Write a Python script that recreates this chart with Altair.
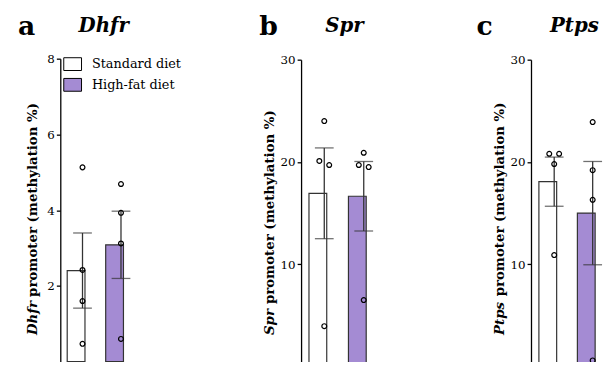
import altair as alt
import pandas as pd

FONT = "DejaVu Serif"
PURPLE = "#a48bd3"

# ---- data ----
letters = ["a", "b", "c"]
genes = ["Dhfr", "Spr", "Ptps"]
diets = ["Standard diet", "High-fat diet"]

dhfr_standard = [5.13, 2.42, 1.60, 0.47]
dhfr_high_fat = [4.69, 3.93, 3.12, 0.60]
spr_standard = [24.0, 20.1, 19.7, 3.95]
spr_high_fat = [20.9, 19.7, 19.5, 6.5]
ptps_standard = [20.8, 20.8, 19.8, 10.9]
ptps_high_fat = [23.9, 19.2, 16.3, 0.6]

y_max = [8, 30, 30]
y_ticks = [[2, 4, 6, 8], [10, 20, 30], [10, 20, 30]]

# ---- layout (pixels, relative to the plot origin) ----
W_TOTAL, H_TOTAL = 606, 354
panel_x = [(53, 138), (297, 377), (530, 610)]   # left / right of each panel
panel_y = [(356, 49), (361, 50), (361, 50)]     # zero line / top of each panel
bar_w = 31
bar_left = [7, 8, 8]
bar_gap = [8, 9, 8]
letter_pos = [(19, 25), (264, 25), (483, 25)]
gene_pos = [(97, 22), (341, 22), (574, 22)]
title_pos = [(25, 329), (266, 329), (499, 329)]
TS = 13.5
# approx. advance widths (em) of DejaVu Serif Bold Italic
BI = {"D": .83, "h": .71, "f": .44, "r": .53, "S": .72, "p": .72,
      "P": .75, "t": .48, "s": .60}


def spread(vals, thr):
    order = sorted(range(len(vals)), key=lambda k: -vals[k])
    out = [0.0] * len(vals)
    i = 0
    while i < len(order):
        j = i
        while j + 1 < len(order) and vals[order[j]] - vals[order[j + 1]] < thr:
            j += 1
        k = j - i + 1
        if k > 1:
            for m in range(k):
                out[order[i + m]] = -1 + 2 * m / (k - 1)
        i = j + 1
    return out


one = pd.DataFrame({"t": [0]})


def txt(text, x, y, size, weight="bold", style="normal", angle=0,
        align="left", baseline="alphabetic"):
    return alt.Chart(one).mark_text(
        text=text, font=FONT, fontSize=size, fontWeight=weight,
        fontStyle=style, angle=angle, align=align, baseline=baseline,
        color="black").encode(x=alt.value(x), y=alt.value(y))


def panel(i, std, hf):
    vals = std + hf
    groups = [diets[0]] * len(std) + [diets[1]] * len(hf)
    thr = y_max[i] * 0.02
    offs = spread(std, thr) + spread(hf, thr)
    df = pd.DataFrame({"diet": groups, "value": vals, "slot": offs})

    x0, x1 = panel_x[i]
    W = x1 - x0
    step = bar_w + bar_gap[i]
    pi = bar_gap[i] / step
    outer = W - step * (2 - pi)
    po = outer / (2 * step)
    al = bar_left[i] / outer
    xs = alt.Scale(domain=diets, range=[x0, x1], paddingInner=pi,
                   paddingOuter=po, align=al)
    xenc = alt.X("diet:N", scale=xs, sort=diets, axis=None)
    y0, y1 = panel_y[i]
    ys = alt.Scale(domain=[0, y_max[i]], range=[y0, y1], nice=False)
    yaxis = alt.Axis(orient="left", offset=-x0, values=y_ticks[i],
                     title=None, grid=False,
                     domainColor="black", domainWidth=1.3,
                     tickColor="black", tickWidth=1.3, tickSize=4,
                     labelFont=FONT, labelFontSize=12, labelColor="black",
                     labelPadding=2)
    if i == 0:
        legend = alt.Legend(orient="none", legendX=56, legendY=45, title=None,
                            symbolType="M-1,-0.72H1V0.72H-1Z", symbolSize=324,
                            symbolStrokeColor="black", symbolStrokeWidth=1,
                            labelFont=FONT, labelFontSize=13,
                            labelColor="black", labelOffset=10,
                            rowPadding=3, padding=0, symbolOpacity=1)
    else:
        legend = None

    base = alt.Chart(df)
    bars = base.mark_bar(stroke="#333", strokeWidth=1.2).encode(
        x=xenc,
        y=alt.Y("mean(value):Q", scale=ys, axis=yaxis),
        fill=alt.Fill("diet:N", scale=alt.Scale(domain=diets,
                                                range=["white", PURPLE]),
                      legend=legend))
    stats = base.transform_aggregate(
        m="mean(value)", se="stderr(value)", groupby=["diet"]
    ).transform_calculate(lo="datum.m - datum.se", hi="datum.m + datum.se")
    rule = stats.mark_rule(color="#333", strokeWidth=1.3).encode(
        x=xenc, y=alt.Y("lo:Q", scale=ys, axis=yaxis), y2="hi:Q")
    cap_hi = stats.mark_tick(color="#333", size=19, thickness=1.3).encode(
        x=xenc, y=alt.Y("hi:Q", scale=ys, axis=yaxis))
    cap_lo = stats.mark_tick(color="#333", size=19, thickness=1.3).encode(
        x=xenc, y=alt.Y("lo:Q", scale=ys, axis=yaxis))
    pts = base.mark_point(shape="circle", filled=False, size=24,
                          color="black", strokeWidth=1.2, opacity=1).encode(
        x=xenc,
        xOffset=alt.XOffset("slot:Q", scale=alt.Scale(domain=[-1, 1],
                                                      range=[10.5, 20.5])),
        y=alt.Y("value:Q", scale=ys, axis=yaxis))
    return alt.layer(bars, rule, cap_hi, cap_lo, pts)


def labels(i):
    gene = genes[i]
    gw = sum(BI[c] for c in gene) * TS
    tx, ty = title_pos[i]
    return [
        txt(letters[i], letter_pos[i][0], letter_pos[i][1], 27,
            align="center"),
        txt(gene, gene_pos[i][0], gene_pos[i][1], 20, style="italic",
            align="center"),
        txt(gene, tx, ty, TS, style="italic", angle=270, baseline="middle"),
        txt("promoter (methylation %)", tx, ty - gw - 0.35 * TS, TS,
            angle=270, baseline="middle"),
    ]


panels = [
    panel(0, dhfr_standard, dhfr_high_fat),
    panel(1, spr_standard, spr_high_fat),
    panel(2, ptps_standard, ptps_high_fat),
]
texts = labels(0) + labels(1) + labels(2)

chart = alt.layer(*panels, *texts).resolve_scale(
    x="independent", y="independent", fill="shared"
).resolve_axis(y="independent").configure_view(stroke=None).properties(
    width=W_TOTAL, height=H_TOTAL,
    autosize=alt.AutoSizeParams(type="none"),
    padding={"left": 0, "top": 0, "right": 0, "bottom": 0},
)

chart.save("out.html", embed_options={"renderer": "svg", "actions": False})
